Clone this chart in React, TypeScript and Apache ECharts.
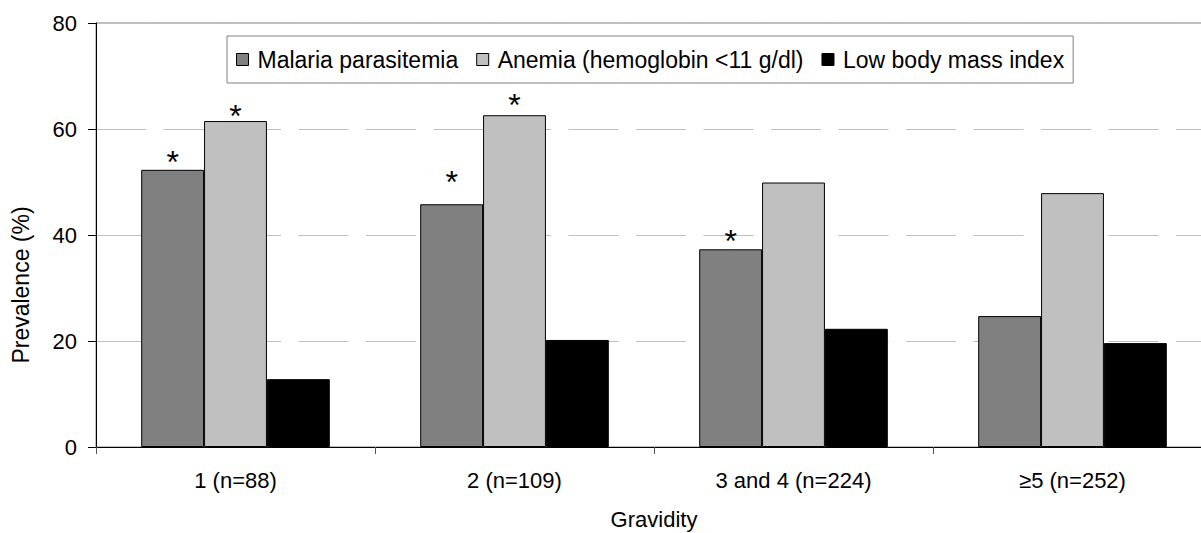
import React, { useEffect, useRef } from "react";
import * as echarts from "echarts";

const categories = ["1 (n=88)", "2 (n=109)", "3 and 4 (n=224)", "≥5 (n=252)"];
const malaria = [52.3, 45.8, 37.3, 24.7];
const anemia = [61.5, 62.6, 49.9, 47.9];
const lowBmi = [12.8, 20.2, 22.3, 19.6];
const malariaStar = [true, true, true, false];
const anemiaStar = [true, true, false, false];
const yTicks = [0, 20, 40, 60, 80];
const seriesNames = ["Malaria parasitemia", "Anemia (hemoglobin <11 g/dl)", "Low body mass index"];

const FONT = 'Arial, "Liberation Sans", sans-serif';

// style: extra vertical lift of individual asterisks (px)
const malariaStarLift = [0, 14, 0, 0];
const anemiaStarLift = [-3, 2, 0, 0];

function withStars(values: number[], stars: boolean[], lift: number[]) {
  return values.map((v, i) => ({
    value: v,
    label: {
      show: stars[i],
      offset: [0, 8 - lift[i]],
    },
  }));
}

export default function App() {
  const ref = useRef<HTMLDivElement>(null);
  useEffect(() => {
    if (!ref.current) return;
    document.body.style.margin = "0";
    document.body.style.overflow = "hidden";
    const chart = echarts.init(ref.current, undefined, { renderer: "svg" });
    const starLabel = {
      show: false,
      position: "top",
      distance: 0,
      formatter: "*",
      fontSize: 32,
      color: "#000",
      fontFamily: FONT,
    };
    const common = {
      type: "bar",
      barGap: "0%",
      barCategoryGap: "32.4%",
    };
    chart.setOption({
      animation: false,
      backgroundColor: "#fff",
      textStyle: { fontFamily: FONT, color: "#000" },
      grid: {
        left: 96,
        top: 23,
        width: 1116,
        height: 424,
        containLabel: false,
        outerBoundsMode: "none",
        show: true,
        borderColor: "#808080",
        borderWidth: 1,
        backgroundColor: "transparent",
      },
      legend: {
        data: seriesNames,
        left: 227,
        top: 36,
        padding: [12, 9, 12, 9],
        itemGap: 18,
        itemWidth: 12,
        itemHeight: 12,
        icon: "rect",
        borderColor: "#808080",
        borderWidth: 1,
        backgroundColor: "#fff",
        itemStyle: { borderColor: "#000", borderWidth: 1 },
        textStyle: {
          fontSize: 23,
          color: "#000",
          fontFamily: FONT,
          padding: [0, 0, 0, 4],
        },
      },
      xAxis: {
        type: "category",
        data: categories,
        name: "Gravidity",
        nameLocation: "middle",
        nameGap: 61,
        nameTextStyle: { fontSize: 22, color: "#000", fontFamily: FONT },
        axisLine: { lineStyle: { color: "#000", width: 1 } },
        axisTick: { show: true, length: 7, alignWithLabel: false, lineStyle: { color: "#555" } },
        axisLabel: { fontSize: 22, color: "#000", margin: 22, fontFamily: FONT },
        splitLine: { show: false },
      },
      yAxis: {
        type: "value",
        min: yTicks[0],
        max: yTicks[yTicks.length - 1],
        interval: yTicks[1] - yTicks[0],
        axisLine: { show: true, lineStyle: { color: "#000", width: 1 } },
        axisTick: { show: true, length: 8, inside: false, lineStyle: { color: "#000" } },
        axisLabel: { fontSize: 22, color: "#000", margin: 19, fontFamily: FONT },
        splitLine: {
          show: true,
          lineStyle: { color: "#c0c0c0", width: 1, type: [50, 17.5] },
        },
      },
      graphic: [
        {
          type: "text",
          x: 21,
          y: 285,
          rotation: Math.PI / 2,
          style: {
            text: "Prevalence (%)",
            fontSize: 23,
            fontFamily: FONT,
            fill: "#000",
            align: "center",
            verticalAlign: "middle",
          },
        },
      ],
      series: [
        {
          ...common,
          name: seriesNames[0],
          data: withStars(malaria, malariaStar, malariaStarLift),
          itemStyle: { color: "#808080", borderColor: "#000", borderWidth: 1 },
          label: starLabel,
        },
        {
          ...common,
          name: seriesNames[1],
          data: withStars(anemia, anemiaStar, anemiaStarLift),
          itemStyle: { color: "#c0c0c0", borderColor: "#000", borderWidth: 1 },
          label: starLabel,
        },
        {
          ...common,
          name: seriesNames[2],
          data: lowBmi,
          itemStyle: { color: "#000", borderColor: "#000", borderWidth: 1 },
        },
      ],
    });
    return () => chart.dispose();
  }, []);
  return <div ref={ref} style={{ width: 1201, height: 533 }} />;
}
